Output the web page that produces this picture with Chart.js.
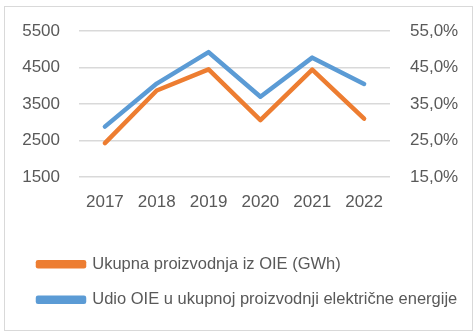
<!DOCTYPE html>
<html>
<head>
<meta charset="utf-8">
<script src="https://cdn.jsdelivr.net/npm/chart.js@4.4.0/dist/chart.umd.min.js"></script>
<style>
  body { margin: 0; background: #ffffff; }
  #box {
    position: absolute; left: 4px; top: 6px;
    width: 467px; height: 323px;
    border: 1px solid #d9d9d9;
  }
</style>
</head>
<body>
<div id="box"><canvas id="myChart" width="467" height="323"></canvas></div>
<script>
// data
var years = ["2017", "2018", "2019", "2020", "2021", "2022"];
var proizvodnja = [2430, 3870, 4450, 3060, 4440, 3100];      // GWh, left axis
var udio = [28.8, 40.6, 49.2, 37.0, 47.7, 40.5];            // %, right axis
var leftTicks = [1500, 2500, 3500, 4500, 5500];
var rightTicks = [15, 25, 35, 45, 55];

var textColor = "#595959";
var fontFam = "'Liberation Sans', Arial, sans-serif";

var ctx = document.getElementById("myChart");

var chart = new Chart(ctx, {
  type: "line",
  data: {
    labels: years,
    datasets: [
      {
        label: "Ukupna proizvodnja iz OIE (GWh)",
        data: proizvodnja,
        yAxisID: "y",
        borderColor: "#ed7d31",
        backgroundColor: "#ed7d31",
        borderWidth: 4.5,
        borderJoinStyle: "round",
        borderCapStyle: "round",
        pointRadius: 0,
        tension: 0,
        fill: false
      },
      {
        label: "Udio OIE u ukupnoj proizvodnji električne energije",
        data: udio,
        yAxisID: "y1",
        borderColor: "#5b9bd5",
        backgroundColor: "#5b9bd5",
        borderWidth: 4.5,
        borderJoinStyle: "round",
        borderCapStyle: "round",
        pointRadius: 0,
        tension: 0,
        fill: false
      }
    ]
  },
  options: {
    responsive: false,
    animation: false,
    layout: { padding: { top: 24, bottom: 12, left: 14, right: 0 } },
    plugins: {
      tooltip: { enabled: false },
      legend: {
        display: true,
        position: "bottom",
        align: "start",
        labels: {
          boxWidth: 46,
          boxHeight: 4,
          color: textColor,
          padding: 19,
          font: { family: fontFam, size: 16.5 }
        }
      }
    },
    scales: {
      x: {
        offset: true,
        grid: { display: false, drawTicks: false, offset: true },
        border: { display: false },
        ticks: { color: textColor, padding: 15, font: { family: fontFam, size: 17 } },
        afterFit: function (s) { s.height = 60; }
      },
      y: {
        position: "left",
        min: 1500,
        max: 5500,
        afterBuildTicks: function (s) { s.ticks = leftTicks.map(function (v) { return { value: v }; }); },
        grid: { color: "#d9d9d9", lineWidth: 1.4, drawTicks: false },
        border: { display: false },
        ticks: {
          color: textColor,
          padding: 19,
          font: { family: fontFam, size: 17 },
          callback: function (v) { return String(v); }
        },
        afterFit: function (s) { s.width = 60; s.paddingTop = 0; s.paddingBottom = 0; }
      },
      y1: {
        position: "right",
        min: 15,
        max: 55,
        afterBuildTicks: function (s) { s.ticks = rightTicks.map(function (v) { return { value: v }; }); },
        grid: { display: false, drawTicks: false },
        border: { display: false },
        ticks: {
          color: textColor,
          padding: 20,
          font: { family: fontFam, size: 17 },
          callback: function (v) { return v.toFixed(1).replace(".", ",") + "%"; }
        },
        afterFit: function (s) { s.width = 82; s.paddingTop = 0; s.paddingBottom = 0; }
      }
    }
  }
});
</script>
</body>
</html>
